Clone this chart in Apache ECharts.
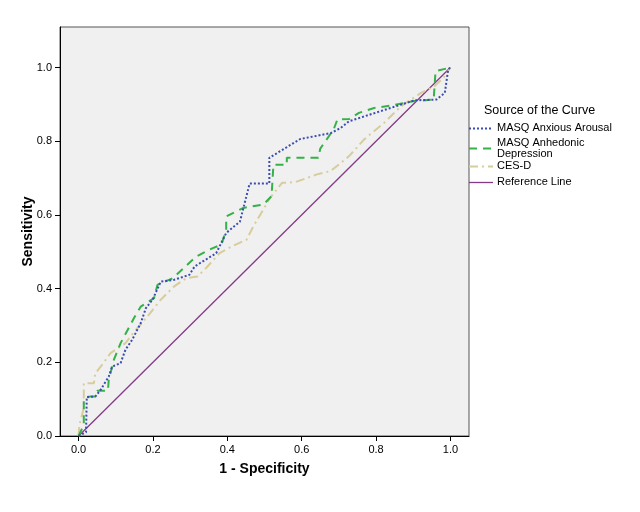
<!DOCTYPE html>
<html><head><meta charset="utf-8">
<script src="https://cdn.jsdelivr.net/npm/echarts@6/dist/echarts.min.js"></script>
<style>html,body{margin:0;padding:0;background:#fff}#c{width:640px;height:512px}</style>
</head><body><div id="c"></div>
<script>
var xTicks = [0, 0.2, 0.4, 0.6, 0.8, 1.0];
var yTicks = [0, 0.2, 0.4, 0.6, 0.8, 1.0];
var seriesNames = ['MASQ Anxious Arousal', 'MASQ Anhedonic\nDepression', 'CES-D', 'Reference Line'];

var aaX = [0, 0.02, 0.022, 0.045, 0.059, 0.081, 0.09, 0.113, 0.126, 0.144, 0.167, 0.181, 0.199, 0.221, 0.257, 0.298, 0.312, 0.37, 0.397, 0.434, 0.46, 0.513, 0.513, 0.596, 0.678, 0.705, 0.727, 0.903, 0.962, 0.985, 0.994, 1];
var aaY = [0, 0.01, 0.106, 0.107, 0.125, 0.161, 0.188, 0.198, 0.234, 0.261, 0.306, 0.347, 0.37, 0.419, 0.424, 0.4375, 0.46, 0.496, 0.551, 0.582, 0.685, 0.685, 0.755, 0.806, 0.822, 0.836, 0.854, 0.911, 0.913, 0.931, 0.995, 1];

var adX = [0, 0.014, 0.014, 0.03, 0.045, 0.05, 0.079, 0.081, 0.095, 0.113, 0.149, 0.167, 0.203, 0.212, 0.253, 0.316, 0.361, 0.384, 0.397, 0.397, 0.443, 0.497, 0.519, 0.524, 0.56, 0.56, 0.645, 0.65, 0.686, 0.696, 0.727, 0.754, 0.795, 0.84, 0.903, 0.955, 0.96, 1];
var adY = [0, 0.03, 0.1, 0.107, 0.107, 0.123, 0.123, 0.152, 0.207, 0.252, 0.32, 0.351, 0.374, 0.41, 0.428, 0.487, 0.51, 0.519, 0.56, 0.596, 0.619, 0.628, 0.651, 0.736, 0.736, 0.755, 0.755, 0.78, 0.832, 0.859, 0.86, 0.877, 0.89, 0.897, 0.909, 0.913, 0.99, 1];

var cdX = [0, 0.002, 0.007, 0.014, 0.014, 0.041, 0.045, 0.063, 0.086, 0.126, 0.154, 0.185, 0.221, 0.257, 0.289, 0.32, 0.343, 0.379, 0.411, 0.452, 0.47, 0.515, 0.547, 0.583, 0.641, 0.678, 0.727, 0.768, 0.822, 0.867, 0.921, 0.957, 0.985, 1];
var cdY = [0, 0.03, 0.048, 0.076, 0.143, 0.143, 0.17, 0.193, 0.225, 0.252, 0.288, 0.324, 0.37, 0.406, 0.428, 0.433, 0.456, 0.496, 0.514, 0.533, 0.569, 0.646, 0.687, 0.689, 0.71, 0.719, 0.759, 0.805, 0.85, 0.895, 0.931, 0.949, 0.976, 1];

var refX = [0, 1];
var refY = [0, 1];

function pts(xs, ys){ return xs.map(function(x,i){ return [x, ys[i]]; }); }

var colors = ['#3a4db0', '#36b048', '#d6cd9b', '#843a86'];
var dashes = [[2, 2], [8, 6], [9, 4, 2, 4], 'solid'];
var widths = [2, 2, 2, 1.3];
var font = 'Liberation Sans, Arial, sans-serif';

var chart = echarts.init(document.getElementById('c'));
var data = [pts(aaX, aaY), pts(adX, adY), pts(cdX, cdY), pts(refX, refY)];
var order = [3, 2, 1, 0];
var series = order.map(function(i){
  return {type: 'line', name: seriesNames[i], data: data[i], symbol: 'none', animation: false,
    lineStyle: {color: colors[i], width: widths[i], type: dashes[i]}, z: 2 + (3 - i)};
});

var legY = [128.5, 148.5, 166.5, 182.5];
var legText = [['MASQ Anxious Arousal'], ['MASQ Anhedonic', 'Depression'], ['CES-D'], ['Reference Line']];
var g = [{type: 'text', left: 484, top: 104, style: {text: 'Source of the Curve', font: '12.5px ' + font, fill: '#000'}}];
for (var i = 0; i < 4; i++) {
  g.push({type: 'line', shape: {x1: 469, y1: legY[i], x2: 493, y2: legY[i]},
    style: {stroke: colors[i], lineWidth: widths[i], lineDash: dashes[i] === 'solid' ? null : dashes[i]}});
  if (legText[i].length === 1) {
    g.push({type: 'text', left: 497, top: legY[i] - 6, style: {text: legText[i][0], font: '11px ' + font, fill: '#000'}});
  } else {
    g.push({type: 'text', left: 497, top: 137.5, style: {text: legText[i][0], font: '11px ' + font, fill: '#000'}});
    g.push({type: 'text', left: 497, top: 148.5, style: {text: legText[i][1], font: '11px ' + font, fill: '#000'}});
  }
}

chart.setOption({
  animation: false,
  backgroundColor: '#ffffff',
  grid: {left: 60, top: 27, right: 171, bottom: 76, show: true, backgroundColor: '#f0f0f0', borderColor: '#555', borderWidth: 1},
  xAxis: {type: 'value', min: -0.05, max: 1.05,
    name: '1 - Specificity', nameLocation: 'middle', nameGap: 26, nameMoveOverlap: false,
    nameTextStyle: {fontFamily: font, fontSize: 14, fontWeight: 'bold', color: '#000'},
    axisLine: {onZero: false, lineStyle: {color: '#000', width: 1}},
    axisTick: {show: true, length: 5, lineStyle: {color: '#000'}, customValues: xTicks},
    axisLabel: {customValues: xTicks, color: '#000', fontFamily: font, fontSize: 11, margin: 8,
      formatter: function(v){ return v.toFixed(1); }},
    splitLine: {show: false}},
  yAxis: {type: 'value', min: 0, max: 1.11,
    name: 'Sensitivity', nameLocation: 'middle', nameGap: 25, nameMoveOverlap: false,
    nameTextStyle: {fontFamily: font, fontSize: 14, fontWeight: 'bold', color: '#000'},
    axisLine: {show: true, onZero: false, lineStyle: {color: '#000', width: 1}},
    axisTick: {show: true, length: 5, lineStyle: {color: '#000'}, customValues: yTicks},
    axisLabel: {customValues: yTicks, color: '#000', fontFamily: font, fontSize: 11, margin: 8,
      formatter: function(v){ return v.toFixed(1); }},
    splitLine: {show: false}},
  series: series,
  graphic: g
});
</script>
</body></html>
